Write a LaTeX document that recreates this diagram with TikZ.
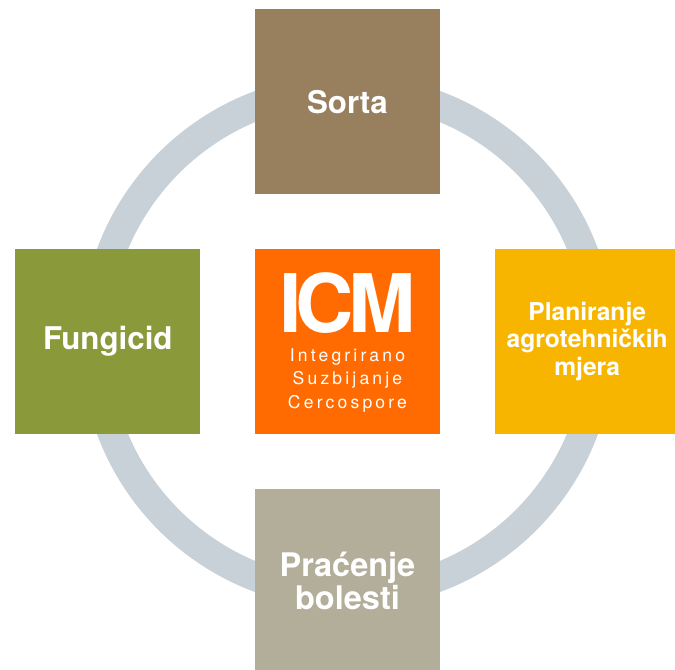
\documentclass[tikz,border=0pt]{standalone}
\usepackage{fontspec}
\setmainfont{TeX Gyre Heros}
\usetikzlibrary{positioning}

\definecolor{csorta}{HTML}{98805F}
\definecolor{cfung}{HTML}{8A9A3A}
\definecolor{cicm}{HTML}{FF6B00}
\definecolor{cplan}{HTML}{F8B500}
\definecolor{cprac}{HTML}{B3AE9A}
\definecolor{cring}{HTML}{C8D1D8}

\begin{document}
\begin{tikzpicture}[
  tile/.style={minimum size=3.7cm,inner sep=0pt,text=white,align=center},
  big/.style={font=\bfseries\fontsize{17.8}{20}\selectfont},
  mid/.style={font=\bfseries\fontsize{14}{15.6}\selectfont},
  sub/.style={inner sep=0pt,text=white,align=center,
    font=\fontsize{10}{13.3}\selectfont\addfontfeature{LetterSpace=18}}]
% --- page frame (right and bottom tiles run off the edge) ---
\useasboundingbox (-6.95,-6.55) rectangle (6.55,6.83);
\clip (-6.95,-6.55) rectangle (6.55,6.83);

% --- ring behind the tiles ---
\draw[cring,line width=0.58cm] (0,0) circle (5.05);

% --- tiles ---
\node[tile,fill=cicm] (icm) at (0,0) {};
\node[tile,big,fill=csorta,above=1.08cm of icm] (sorta) {Sorta};
\node[tile,big,fill=cfung,left=1.08cm of icm] (fungicid) {Fungicid};
\node[tile,mid,fill=cplan,right=1.08cm of icm] (planiranje)
  {Planiranje\\agrotehničkih\\mjera};
\node[tile,big,fill=cprac,below=1.08cm of icm,
  font=\bfseries\fontsize{18.5}{16.5}\selectfont] (pracenje) {Praćenje\\bolesti};

% --- centre label ---
\node[anchor=base,inner sep=0pt,text=white,
  font=\bfseries\fontsize{46}{46}\selectfont\addfontfeature{LetterSpace=-7}]
  (icmtitle) at ([yshift=0.19cm]icm.center) {ICM};
\node[sub,below=0.3cm of icmtitle] (icmsub)
  {Integrirano\\Suzbijanje\\Cercospore};
\end{tikzpicture}
\end{document}
